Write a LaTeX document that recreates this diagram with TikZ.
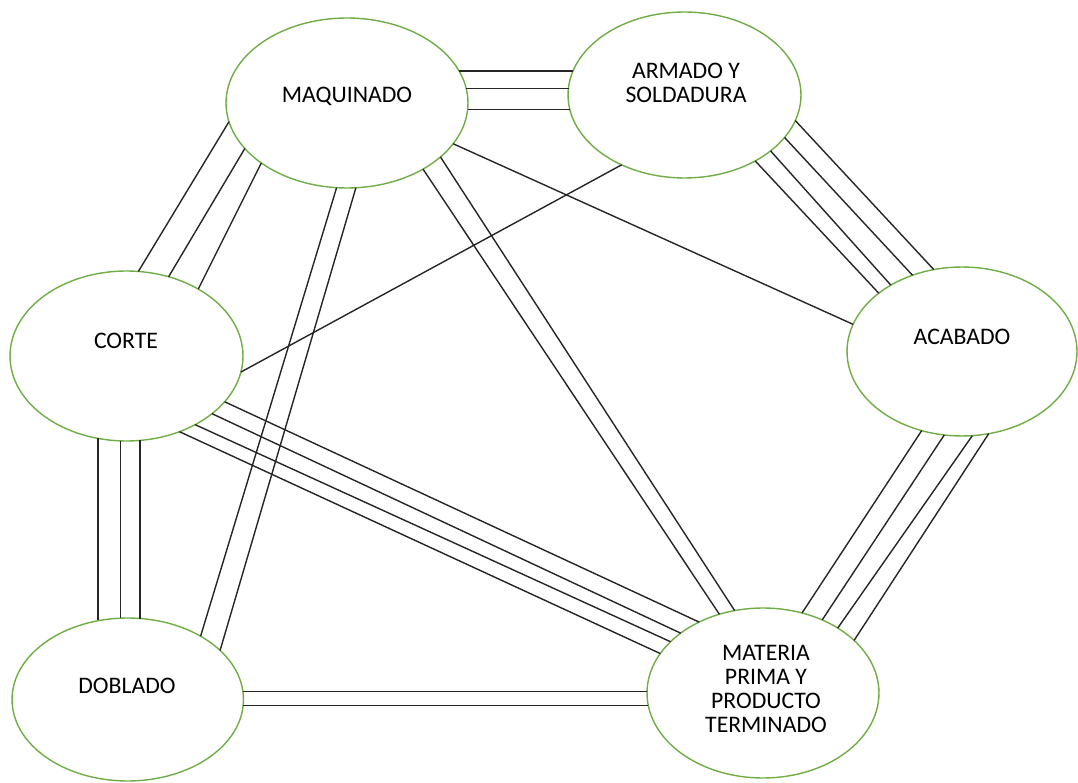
\documentclass[tikz,border=0pt]{standalone}
\usepackage{fontspec}
\setmainfont{Carlito}
\usetikzlibrary{shapes.geometric}
\definecolor{ringgreen}{RGB}{112,173,71}
\begin{document}
\begin{tikzpicture}[x=0.02cm,y=-0.02cm,
  station/.style={ellipse, draw=ringgreen, line width=0.8pt, inner sep=0pt, outer sep=0pt},
  caption/.style={font=\fontsize{13.5}{13.5}\selectfont, align=center, inner sep=0pt},
  link/.style={draw=black!85, line width=0.8pt}
]
\useasboundingbox (0,0) rectangle (1078,783);

% process stations
\node[station, minimum width=4.84cm, minimum height=3.40cm] (ma) at (347,103) {};
\node[station, minimum width=4.66cm, minimum height=3.32cm] (ar) at (684.5,95) {};
\node[station, minimum width=4.66cm, minimum height=3.40cm] (co) at (126.5,356) {};
\node[station, minimum width=4.60cm, minimum height=3.38cm] (ac) at (962,351.5) {};
\node[station, minimum width=4.63cm, minimum height=3.26cm] (do) at (127.75,699.5) {};
\node[station, minimum width=4.64cm, minimum height=3.40cm] (mt) at (763,693) {};

% station names
\node[caption] (tma) at (347,96) {MAQUINADO};
\node[caption] (tar) at (686,83) {ARMADO Y\\SOLDADURA};
\node[caption] (tco) at (126,341) {CORTE};
\node[caption] (tac) at (962,337) {ACABADO};
\node[caption] (tdo) at (127,686) {DOBLADO};
\node[caption] (tmt) at (766,689) {MATERIA\\PRIMA Y\\PRODUCTO\\TERMINADO};

% MAQUINADO -- ARMADO Y SOLDADURA (3, horizontal)
\draw[link] (ma.16.5) -- (ma.16.5 -| ar.168.2);
\draw[link] (ma.7.6) -- (ma.7.6 -| ar.175.9);
\draw[link] (ma.-3.5) -- (ma.-3.5 -| ar.187.2);

% MAQUINADO -- CORTE (3)
\draw[link] (ma.189.5) -- (co.82.9);
\draw[link] (ma.204.4) -- (co.62.0);
\draw[link] (ma.215.5) -- (co.43.1);

% CORTE -- DOBLADO (3, vertical)
\draw[link] (co.251.25) -- (co.251.25 |- do.109.65);
\draw[link] (co.266.3) -- (co.266.3 |- do.95.0);
\draw[link] (co.279.7) -- (co.279.7 |- do.80.3);

% CORTE -- MATERIA PRIMA (4)
\draw[link] (co.-25.5) -- (mt.132.97);
\draw[link] (co.-34.6) -- (mt.144.3);
\draw[link] (co.-45.67) -- (mt.151.6);
\draw[link] (co.-55.9) -- (mt.159.8);

% MAQUINADO -- DOBLADO (2)
\draw[link] (ma.263.3) -- (do.41.1);
\draw[link] (ma.276.4) -- (do.28.5);

% CORTE -- ARMADO Y SOLDADURA (1)
\draw[link] (co.-8.3) -- (ar.228.7);

% MAQUINADO -- ACABADO (1)
\draw[link] (ma.-21.6) -- (ac.166.7);

% MAQUINADO -- MATERIA PRIMA (2)
\draw[link] (ma.-41.2) -- (mt.119.4);
\draw[link] (ma.-30.1) -- (mt.109.1);

% ARMADO Y SOLDADURA -- ACABADO (4)
\draw[link] (ar.-13.7) -- (ac.109.6);
\draw[link] (ar.-23.1) -- (ac.123.7);
\draw[link] (ar.-33.7) -- (ac.137.3);
\draw[link] (ar.-43.6) -- (ac.145.6);

% ACABADO -- MATERIA PRIMA (4)
\draw[link] (ac.243.0) -- (mt.64.3);
\draw[link] (ac.258.0) -- (mt.51.5);
\draw[link] (ac.277.0) -- (mt.41.8);
\draw[link] (ac.288.7) -- (mt.30.3);

% DOBLADO -- MATERIA PRIMA (2, horizontal)
\draw[link] (do.4.2) -- (do.4.2 -| mt.180);
\draw[link] (do.-3.2) -- (do.-3.2 -| mt.186.0);
\end{tikzpicture}
\end{document}
